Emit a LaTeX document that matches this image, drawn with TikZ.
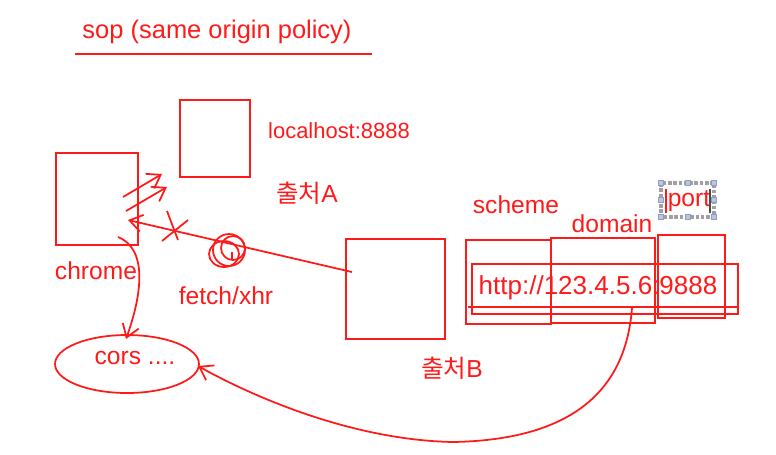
\documentclass[tikz,border=0pt]{standalone}
\usepackage{fontspec}
\setmainfont{Liberation Sans}
\newfontfamily\krfont{Noto Sans CJK KR}
\usepackage{xcolor}
\definecolor{PenRed}{HTML}{FF1A1A}
\definecolor{SelGray}{HTML}{A0A0A0}
\definecolor{SelBlue}{HTML}{B8C4E8}
\usetikzlibrary{positioning,shapes.geometric,arrows.meta}

\begin{document}
\begin{tikzpicture}[x=0.02cm,y=-0.02cm,
  pen/.style={PenRed, line width=1pt},
  hand/.style={pen, -{Straight Barb[length=2.5mm,width=3.4mm]}},
  box/.style={draw=PenRed, line width=1pt, inner sep=0pt},
  lbl/.style={text=PenRed, inner sep=0pt, font=\fontsize{14}{16}\selectfont}]
  \useasboundingbox (0,0) rectangle (776,454);
  % title
  \node[lbl, font=\fontsize{14.5}{17}\selectfont] (title) at (217,32) {sop (same origin policy)};
  \draw[pen] (75,54) -- (372,54);
  % origins and browser
  \node[box, minimum width=1.64cm, minimum height=1.84cm] (chrome) at (97,199) {};
  \node[lbl] (chromelbl) at (96,271) {chrome};
  \node[box, minimum width=1.4cm, minimum height=1.54cm] (originA) at (215,138.5) {};
  \node[lbl, font=\fontsize{12.5}{16}\selectfont] (host) at (339,131) {localhost:8888};
  \node[lbl] (originAlbl) at (307,193) {{\krfont 출처}A};
  \node[box, minimum width=1.98cm, minimum height=2cm] (originB) at (395.5,289) {};
  \node[lbl] (originBlbl) at (452,368) {{\krfont 출처}B};
  \node[lbl] (fetch) at (226,296) {fetch/xhr};
  % requests
  \coordinate (reqA1) at (123,197);
  \coordinate (reqA2) at (126,211);
  \draw[hand] (reqA1) -- (162,174);
  \draw[hand] (reqA2) -- (167,187);
  \coordinate (fromB) at (352,272);
  \coordinate (toChrome) at (128,220);
  \draw[hand] (fromB) -- (toChrome);
  % blocked
  \draw[pen] (167,211) -- (178,240);
  \draw[pen] (162,241) -- (188,220);
  \draw[pen] (229,250) circle (16);
  \draw[pen] (224,254) ellipse (15 and 13);
  \draw[pen] (233,248) circle (12);
  \draw[pen] (232,252) -- (232,260);
  % cors
  \node[draw=PenRed, line width=1pt, ellipse, minimum width=2.88cm, minimum height=1.16cm] (corsring) at (127,364) {};
  \node[lbl] (cors) at (135,358) {cors ....};
  \coordinate (chromeOut) at (118,237);
  \coordinate (corsTop) at (126,339);
  \draw[hand] (chromeOut) .. controls (150,250) and (140,300) .. (corsTop);
  % url parts
  \node[box, minimum width=1.7cm, minimum height=1.68cm] (scheme) at (508.5,282) {};
  \node[box, minimum width=2.08cm, minimum height=1.7cm] (domain) at (603,280.5) {};
  \node[box, minimum width=1.34cm, minimum height=1.66cm] (port) at (691.5,276.5) {};
  \node[box, minimum width=5.32cm, minimum height=1cm] (url) at (605,289) {};
  \draw[pen] (468,307) -- (739,307);
  \node[lbl, font=\fontsize{14.8}{17}\selectfont] (urltxt) at (598,288) {http://123.4.5.6:9888};
  \node[lbl] (schemelbl) at (516,205) {scheme};
  \node[lbl] (domainlbl) at (612,224) {domain};
  \draw[SelGray, densely dotted, line width=2pt] (661,183) rectangle (714,217);
  \foreach \hx/\hy in {661/183,688/183,714/183,661/200,714/200,661/217,688/217,714/217}
    {\draw[SelBlue!80!black, fill=SelBlue, line width=0.3pt] (\hx-2.5,\hy-2.5) rectangle (\hx+2.5,\hy+2.5);}
  \node[lbl] (portlbl) at (689,201) {port};
  \draw[pen] (666,189) -- (666,213);
  \draw[black!70, line width=0.6pt] (710,189) -- (710,213);
  % url back to cors
  \coordinate (urlOut) at (632,308);
  \coordinate (corsRight) at (198,366);
  \draw[hand] (urlOut) .. controls (625,400) and (560,440) .. (453,442)
    .. controls (350,440) and (250,395) .. (corsRight);
\end{tikzpicture}
\end{document}
